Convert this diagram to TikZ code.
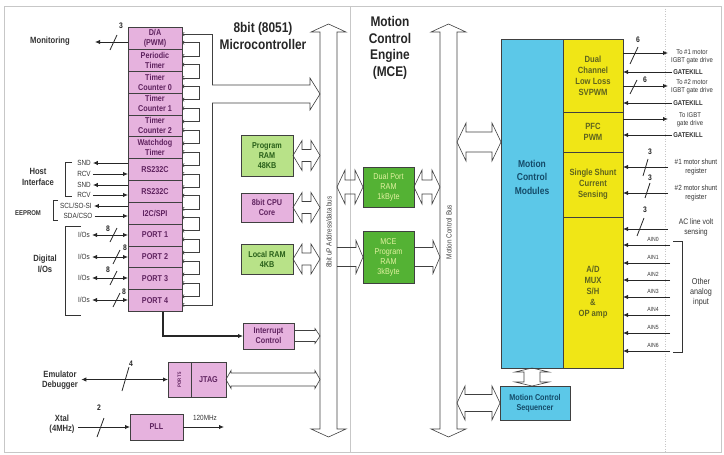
\documentclass[tikz,border=0pt]{standalone}
\usepackage{fontspec}
\setmainfont{Liberation Sans}[FakeStretch=0.85]
\usepackage{tikz}
\usetikzlibrary{arrows.meta,positioning,calc}

\definecolor{mcupink}{RGB}{230,178,222}
\definecolor{mcutext}{RGB}{95,35,95}
\definecolor{ramgreen}{RGB}{184,226,136}
\definecolor{ramtext}{RGB}{40,95,25}
\definecolor{mcegreen}{RGB}{84,178,52}
\definecolor{mcetext}{RGB}{226,242,160}
\definecolor{modcyan}{RGB}{92,200,232}
\definecolor{modtext}{RGB}{20,75,105}
\definecolor{modyellow}{RGB}{240,230,22}
\definecolor{yeltext}{RGB}{95,100,30}

\newcommand{\fsz}[2]{\fontsize{#1}{#2}\selectfont}

% hollow block arrow, heads at both ends: tip, tip, shaft half width, head half width, head length
\newcommand{\hollowboth}[5]{%
  \coordinate (ha) at ($(#1)!#5!(#2)$);
  \coordinate (hb) at ($(#2)!#5!(#1)$);
  \draw[hollow] (#1) -- ($(ha)!#4!90:(#2)$) -- ($(ha)!#3!90:(#2)$)
    -- ($(hb)!#3!-90:(#1)$) -- ($(hb)!#4!-90:(#1)$) -- (#2)
    -- ($(hb)!#4!90:(#1)$) -- ($(hb)!#3!90:(#1)$)
    -- ($(ha)!#3!-90:(#2)$) -- ($(ha)!#4!-90:(#2)$) -- cycle;
}
% hollow block arrow, open tail at #1, head at #2
\newcommand{\hollowto}[5]{%
  \coordinate (hb) at ($(#2)!#5!(#1)$);
  \draw[hollow] ($(#1)!#3!90:(#2)$) -- ($(hb)!#3!-90:(#1)$) -- ($(hb)!#4!-90:(#1)$)
    -- (#2) -- ($(hb)!#4!90:(#1)$) -- ($(hb)!#3!90:(#1)$) -- ($(#1)!#3!-90:(#2)$);
}

\tikzset{
  barb/.tip={Straight Barb[length=1.8pt,width=3.5pt]},
  blk/.style={draw=black!75, line width=0.7pt, align=center, inner sep=1pt, outer sep=0pt,
              font=\bfseries\fsz{8.5}{10}},
  mcu/.style={blk, fill=mcupink, text=mcutext, minimum width=54pt, minimum height=21.85pt},
  ram/.style={blk, fill=ramgreen, text=ramtext, minimum width=52pt},
  mce/.style={blk, fill=mcegreen, text=mcetext, minimum width=51pt, font=\fsz{8.5}{10}},
  modbox/.style={blk, fill=modcyan, text=modtext},
  yelbox/.style={blk, fill=modyellow, text=yeltext, minimum width=60pt, font=\bfseries\fsz{9}{11}},
  title/.style={font=\bfseries\fsz{14}{16.5}, align=center, text=black!85},
  lbl/.style={font=\bfseries\fsz{9}{10.5}, align=center, text=black!80},
  sml/.style={font=\fsz{7.5}{8.5}, align=center, inner xsep=2pt, inner ysep=1pt, text=black!80},
  smlb/.style={sml, font=\bfseries\fsz{7}{8}},
  tiny/.style={font=\fsz{6}{6}, inner sep=1pt, text=black!80},
  wid/.style={font=\bfseries\fsz{8}{8}, inner sep=0pt, text=black!85},
  buslbl/.style={font=\fsz{7.5}{7.5}, inner sep=0pt, text=black!75},
  sig/.style={-{Latex[length=5pt,width=4.5pt]}, line width=0.9pt, black!85},
  sigboth/.style={{Latex[length=5pt,width=4.5pt]}-{Latex[length=5pt,width=4.5pt]}, line width=0.9pt, black!85},
  sigthick/.style={sig, line width=1.2pt},
  slash/.style={line width=0.8pt, black!85},
  brk/.style={line width=0.6pt, black!80},
  hollow/.style={line width=0.6pt, black!75, line join=miter},
  comb/.style={line width=0.6pt, black!75},
  panel/.style={draw=black!22, line width=0.5pt}
}

\begin{document}
\begin{tikzpicture}[x=1pt, y=-1pt]
\useasboundingbox (0,0) rectangle (724,455);

% panels
\draw[panel] (4,6) rectangle (721,452);
\draw[panel] (350,6) -- (350,452);
\draw[panel, dotted] (665,6) -- (665,452);

% titles
\node[title] (mcutitle) at (263,36) {8bit (8051)\\Microcontroller};
\node[title] (mcetitle) at (390,48) {Motion\\Control\\Engine\\(MCE)};

% 8051 peripheral stack
\node[mcu] (da) at (155,38.4) {D/A\\(PWM)};
\node[mcu, below=0pt of da] (ptim) {Periodic\\Timer};
\node[mcu, below=0pt of ptim] (tc0) {Timer\\Counter 0};
\node[mcu, below=0pt of tc0] (tc1) {Timer\\Counter 1};
\node[mcu, below=0pt of tc1] (tc2) {Timer\\Counter 2};
\node[mcu, below=0pt of tc2] (wdt) {Watchdog\\Timer};
\node[mcu, below=0pt of wdt] (rsa) {RS232C};
\node[mcu, below=0pt of rsa] (rsb) {RS232C};
\node[mcu, below=0pt of rsb] (i2c) {I2C/SPI};
\node[mcu, below=0pt of i2c] (p1) {PORT 1};
\node[mcu, below=0pt of p1] (p2) {PORT 2};
\node[mcu, below=0pt of p2] (p3) {PORT 3};
\node[mcu, below=0pt of p3] (p4) {PORT 4};

% internal comb bus
\foreach \a/\b in {da/ptim,ptim/tc0,tc0/tc1,tc1/tc2,tc2/wdt,wdt/rsa,rsa/rsb,rsb/i2c,i2c/p1,p1/p2,p2/p3,p3/p4}
  \draw[comb, barb-barb] ([yshift=-4.3pt]\a.east) -- ++(17,0) |- ([yshift=4.3pt]\b.east);
\coordinate (combtop) at (212,85);
\coordinate (combbot) at (212,103);
\coordinate (combout) at (212,94);
\draw[comb, barb-] ([yshift=4.3pt]da.east) -| (combtop);
\draw[comb, -barb] (combbot) |- ([yshift=-4.3pt]p4.east);

% buses
\coordinate (ubustop) at (328.5,24);
\coordinate (ubusbot) at (328.5,437);
\coordinate (ubusl) at (320,0);
\coordinate (ubusr) at (337,0);
\coordinate (mbustop) at (448.5,24);
\coordinate (mbusbot) at (448.5,437);
\coordinate (mbusl) at (440,0);
\coordinate (mbusr) at (457,0);
\hollowboth{ubustop}{ubusbot}{8.5pt}{17.5pt}{8pt}
\hollowboth{mbustop}{mbusbot}{8.5pt}{17.5pt}{8pt}
\node[buslbl, rotate=90] (ubuslbl) at (329,232) {8bit uP Address/data bus};
\node[buslbl, rotate=90] (mbuslbl) at (449,232) {Motion Control Bus};
\hollowto{combout}{combout -| ubusl}{9pt}{16pt}{10pt}

% monitoring
\node[lbl] (montxt) at (50,41) {Monitoring};
\coordinate (mon) at (95,42);
\draw[sig] (mon -| da.west) -- (mon);
\draw[slash] (110,50) -- (117,35);
\node[wid] (w3) at (121,26) {3};

% host interface
\node[lbl] (host) at (38,177) {Host\\Interface};
\draw[brk] (72,162) -| (65,196) -- (72,196);
\node[sml] (snd1) at (84,163) {SND};
\node[sml] (rcv1) at (84,174) {RCV};
\node[sml] (snd2) at (84,185) {SND};
\node[sml] (rcv2) at (84,195) {RCV};
\draw[sig] (snd1 -| rsa.west) -- (snd1.east);
\draw[sig] (rcv1.east) -- (rcv1 -| rsa.west);
\draw[sig] (snd2 -| rsb.west) -- (snd2.east);
\draw[sig] (rcv2.east) -- (rcv2 -| rsb.west);

% eeprom
\node[smlb] (eeprom) at (28,213) {EEPROM};
\draw[brk] (58,200) -| (53,220) -- (58,220);
\node[sml] (scl) at (76,206) {SCL/SO-SI};
\node[sml] (sda) at (78,216) {SDA/CSO};
\draw[sig] (scl -| i2c.west) -- (scl.east);
\draw[sig] (sda.east) -- (sda -| i2c.west);

% digital i/os
\node[lbl] (dio) at (45,264) {Digital\\I/Os};
\draw[brk] (81,226) -| (65,315) -- (81,315);
\node[sml] (io1) at (84,235) {I/Os};
\node[sml] (io2) at (84,257) {I/Os};
\node[sml] (io3) at (84,278) {I/Os};
\node[sml] (io4) at (84,300) {I/Os};
\draw[sigboth] (io1.east) -- (io1 -| p1.west);
\draw[sigboth] (io2.east) -- (io2 -| p2.west);
\draw[sigboth] (io3.east) -- (io3 -| p3.west);
\draw[sigboth] (io4.east) -- (io4 -| p4.west);
\draw[slash] (110,242) -- (117,228);
\draw[slash] (113,264) -- (120,250);
\draw[slash] (110,285) -- (117,271);
\draw[slash] (113,307) -- (120,293);
\node[wid] (w8a) at (108,229) {8};
\node[wid] (w8b) at (125,248) {8};
\node[wid] (w8c) at (108,270) {8};
\node[wid] (w8d) at (124,292) {8};

% interrupt
\node[mcu, minimum width=51pt, minimum height=26pt] (intc) at (268.5,336) {Interrupt\\Control};
\draw[sigthick] ([xshift=8pt]p4.south) |- (intc.west);
\hollowto{intc.east}{intc.east -| ubusl}{5.5pt}{7.5pt}{5pt}

% jtag
\node[mcu, minimum width=23pt, minimum height=35pt] (port5) at (179.5,379.5) {\rotatebox{90}{\fsz{5}{5}PORT 5}};
\node[mcu, minimum width=35pt, minimum height=35pt, right=0pt of port5] (jtag) {JTAG};
\hollowboth{jtag.east}{jtag.east -| ubusl}{6.5pt}{9pt}{5pt}
\node[lbl] (emu) at (60,380) {Emulator\\Debugger};
\draw[sigboth] (emu.east |- port5.west) -- (port5.west);
\draw[slash] (122,391) -- (129,367);
\node[wid] (w4) at (131,364) {4};

% pll
\node[mcu, minimum width=53pt, minimum height=26pt] (pll) at (156.5,427) {PLL};
\node[lbl] (xtal) at (62,424) {Xtal\\(4MHz)};
\draw[sig] (xtal.east |- pll.west) -- (pll.west);
\draw[slash] (97,437) -- (104,418);
\node[wid] (w2) at (99,408) {2};
\coordinate (clk) at (224,427);
\draw[sig] (pll.east) -- (clk);
\node[sml] (clklbl) at (205,418) {120MHz};

% 8051 memories and core
\node[ram, minimum height=41pt] (prog) at (267,155.5) {Program\\RAM\\48KB};
\node[mcu, minimum width=52pt, minimum height=29pt] (cpu) at (267,207.5) {8bit CPU\\Core};
\node[ram, minimum height=30pt] (lram) at (267,259) {Local RAM\\4KB};
\hollowboth{prog.east}{prog.east -| ubusl}{6pt}{15pt}{9pt}
\hollowboth{cpu.east}{cpu.east -| ubusl}{6pt}{15pt}{9pt}
\hollowboth{lram.east}{lram.east -| ubusl}{6pt}{15pt}{9pt}

% mce memories
\node[mce, minimum height=40pt] (dpram) at (388.5,187) {Dual Port\\RAM\\1kByte};
\node[mce, minimum height=52pt] (mpram) at (388.5,257) {MCE\\Program\\RAM\\3kByte};
\hollowboth{dpram.west -| ubusr}{dpram.west}{7pt}{17pt}{8pt}
\hollowboth{dpram.east}{dpram.east -| mbusl}{7pt}{17pt}{8pt}
\hollowto{mpram.west -| ubusr}{mpram.west}{9.5pt}{16.5pt}{7pt}
\hollowto{mpram.east}{mpram.east -| mbusl}{9.5pt}{16.5pt}{7pt}

% motion control modules
\node[modbox, minimum width=62pt, minimum height=329pt] (mcm) at (532,203.5) {};
\node[lbl, text=modtext, font=\bfseries\fsz{10}{13.5}] (mcmtxt) at (532,177) {Motion\\Control\\Modules};
\node[yelbox, minimum height=73pt] (svpwm) at (593,75.5) {Dual\\Channel\\Low Loss\\SVPWM};
\node[yelbox, minimum height=40pt, below=0pt of svpwm] (pfc) {PFC\\PWM};
\node[yelbox, minimum height=65pt, below=0pt of pfc] (sscs) {Single Shunt\\Current\\Sensing};
\node[yelbox, minimum height=151pt, below=0pt of sscs] (adc) {A/D\\MUX\\S/H\\\&\\OP amp};
\node[modbox, minimum width=70pt, minimum height=34pt] (seq) at (535,403) {Motion Control\\Sequencer};
\coordinate (mcmin) at (501,142);
\hollowboth{mcmin -| mbusr}{mcmin}{10pt}{19pt}{9pt}
\hollowboth{seq.west -| mbusr}{seq.west}{8.5pt}{17pt}{8pt}
\hollowboth{mcm.south}{mcm.south |- seq.north}{8pt}{17pt}{4pt}

% pwm outputs
\coordinate (o1) at (668,53);
\coordinate (o2) at (668,86);
\coordinate (o3) at (668,119);
\draw[sig] (o1 -| svpwm.east) -- (o1);
\draw[sig] (o2 -| svpwm.east) -- (o2);
\draw[sig] (o3 -| pfc.east) -- (o3);
\node[tiny, align=center, font=\fsz{7}{8}] (to1) at (692,56.5) {To \#1 motor\\IGBT gate drive};
\node[tiny, align=center, font=\fsz{7}{8}] (to2) at (692,86.5) {To \#2 motor\\IGBT gate drive};
\node[tiny, align=center, font=\fsz{7}{8}] (to3) at (690,119.5) {To IGBT\\gate drive};
\node[smlb, inner xsep=1pt] (gk1) at (688,72) {GATEKILL};
\node[smlb, inner xsep=1pt] (gk2) at (688,103) {GATEKILL};
\node[smlb, inner xsep=1pt] (gk3) at (688,135) {GATEKILL};
\draw[sig] (gk1.west) -- (gk1.west -| svpwm.east);
\draw[sig] (gk2.west) -- (gk2.west -| svpwm.east);
\draw[sig] (gk3.west) -- (gk3.west -| pfc.east);
\draw[slash] (630,64) -- (638,47);
\node[wid] (w6a) at (638,40) {6};
\draw[slash] (630,94) -- (637,80);
\node[wid] (w6b) at (645,80) {6};

% sensing inputs
\coordinate (s1) at (668,167);
\coordinate (s2) at (668,193);
\coordinate (s3) at (668,229);
\draw[sig] (s1) -- (s1 -| sscs.east);
\draw[sig] (s2) -- (s2 -| sscs.east);
\draw[sig] (s3) -- (s3 -| adc.east);
\node[sml, font=\fsz{7.5}{9}] (sh1) at (696,167.5) {\#1 motor shunt\\register};
\node[sml, font=\fsz{7.5}{9}] (sh2) at (696,193) {\#2 motor shunt\\register};
\node[sml, font=\fsz{8}{9.5}] (acv) at (696,227.5) {AC line volt\\sensing};
\draw[slash] (643,176) -- (648,159);
\node[wid] (w3a) at (650,152) {3};
\draw[slash] (645,198) -- (650,183);
\node[wid] (w3b) at (650,178) {3};
\draw[slash] (637,236) -- (644,218);
\node[wid] (w3c) at (645,210) {3};

% analog inputs
\foreach \i/\y in {0/245,1/263,2/280,3/297,4/315,5/333,6/351}{
  \coordinate (ain\i) at (670,\y);
  \draw[sig] (ain\i) -- (ain\i -| adc.east);
  \node[tiny] (ainlbl\i) at (653,\y-6) {AIN\i};
}
\draw[brk] (673,241) -| (682,352) -- (673,352);
\node[sml, font=\fsz{8.5}{10}] (other) at (701,292) {Other\\analog\\input};

\end{tikzpicture}
\end{document}
